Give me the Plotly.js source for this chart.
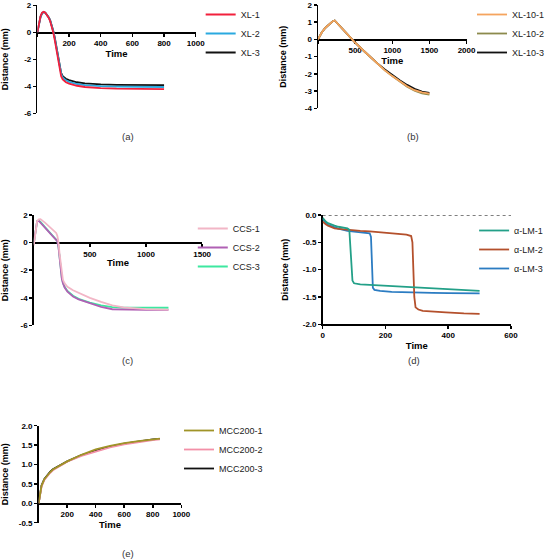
<!DOCTYPE html>
<html>
<head>
<meta charset="utf-8">
<script src="https://cdn.plot.ly/plotly-3.0.1.min.js"></script>
<style>html,body{margin:0;padding:0;background:#fff;}#chart{width:550px;height:559px;}</style>
</head>
<body>
<div id="chart"></div>
<script>
// ---------- Panel (a) ----------
const timeA = [0,10,20,30,40,50,60,70,80,90,100,110,120,130,140,150,160,170,180,200,225,250,300,350,400,500,600,700,800];
const xl1 = [0,0.75,1.2,1.45,1.52,1.45,1.3,1.1,0.85,0.45,0,-0.6,-1.3,-2.0,-2.7,-3.25,-3.5,-3.62,-3.7,-3.8,-3.9,-3.96,-4.05,-4.1,-4.13,-4.17,-4.19,-4.2,-4.21];
const xl2 = [0,0.7,1.15,1.42,1.5,1.45,1.32,1.12,0.9,0.52,0.1,-0.45,-1.1,-1.8,-2.5,-3.05,-3.35,-3.48,-3.56,-3.67,-3.77,-3.83,-3.91,-3.96,-3.99,-4.02,-4.04,-4.05,-4.05];
const xl3 = [0,0.7,1.15,1.42,1.5,1.45,1.33,1.14,0.92,0.55,0.12,-0.4,-1.05,-1.75,-2.45,-3.0,-3.25,-3.37,-3.44,-3.54,-3.64,-3.7,-3.78,-3.83,-3.86,-3.89,-3.9,-3.91,-3.91];
const namesA = ['XL-1','XL-2','XL-3'];

// ---------- Panel (b) ----------
const timeB = [0,25,50,100,150,200,225,250,300,350,400,450,500,600,700,800,900,1000,1100,1200,1300,1400,1500];
const xl10_1 = [0,0.22,0.4,0.68,0.9,1.06,1.1,0.98,0.74,0.5,0.27,0.03,-0.18,-0.6,-1.02,-1.43,-1.8,-2.13,-2.45,-2.72,-2.95,-3.08,-3.15];
const xl10_2 = [0,0.22,0.4,0.68,0.9,1.06,1.1,0.98,0.74,0.5,0.27,0.03,-0.18,-0.6,-1.02,-1.43,-1.8,-2.13,-2.46,-2.75,-2.98,-3.13,-3.2];
const xl10_3 = [0,0.22,0.4,0.68,0.9,1.06,1.1,0.98,0.74,0.5,0.27,0.03,-0.18,-0.6,-1.0,-1.39,-1.74,-2.06,-2.37,-2.64,-2.87,-3.03,-3.1];
const namesB = ['XL-10-1','XL-10-2','XL-10-3'];

// ---------- Panel (c) ----------
const timeC = [0,10,20,30,45,60,100,150,200,210,220,230,240,250,260,275,300,350,400,500,600,700,800,900,1000,1100,1200];
const ccs1 = [-0.2,0.5,1.2,1.55,1.68,1.7,1.45,1.1,0.7,0.5,0.05,-0.8,-1.6,-2.3,-2.7,-2.95,-3.2,-3.45,-3.65,-4.0,-4.3,-4.55,-4.7,-4.78,-4.82,-4.84,-4.85];
const ccs2 = [-0.1,0.6,1.3,1.55,1.57,1.45,1.08,0.64,0.2,0.1,-0.3,-1.2,-2.0,-2.6,-2.95,-3.25,-3.55,-3.9,-4.12,-4.4,-4.65,-4.83,-4.86,-4.87,-4.87,-4.87,-4.87];
const ccs3 = [-0.1,0.6,1.3,1.55,1.6,1.5,1.12,0.68,0.24,0.12,-0.25,-1.15,-1.95,-2.55,-2.9,-3.2,-3.5,-3.85,-4.08,-4.35,-4.55,-4.68,-4.71,-4.72,-4.72,-4.72,-4.72];
const namesC = ['CCS-1','CCS-2','CCS-3'];

// ---------- Panel (d) ----------
const timeD1 = [0,5,10,17,25,38,50,65,79,85,88,91,95,100,120,150,183,250,287,350,400,450,500];
const lm1 = [-0.05,-0.09,-0.12,-0.15,-0.17,-0.195,-0.215,-0.23,-0.245,-0.27,-0.6,-1.0,-1.2,-1.25,-1.27,-1.28,-1.29,-1.31,-1.33,-1.35,-1.36,-1.375,-1.39];
const timeD2 = [0,5,10,17,25,38,50,79,120,150,183,220,250,267,282,286,289,292,296,305,319,350,392,450,500];
const lm2 = [-0.12,-0.15,-0.17,-0.195,-0.215,-0.244,-0.255,-0.274,-0.29,-0.3,-0.317,-0.33,-0.345,-0.36,-0.385,-0.5,-1.0,-1.5,-1.69,-1.73,-1.756,-1.77,-1.78,-1.8,-1.81];
const timeD3 = [0,5,10,17,25,38,50,79,120,150,154,157,160,165,183,220,287,350,400,450,500];
const lm3 = [-0.07,-0.11,-0.14,-0.18,-0.2,-0.23,-0.25,-0.29,-0.317,-0.335,-0.4,-0.9,-1.33,-1.37,-1.39,-1.405,-1.42,-1.425,-1.43,-1.432,-1.435];
const namesD = ['\u03b1-LM-1','\u03b1-LM-2','\u03b1-LM-3'];

// ---------- Panel (e) ----------
const timeE = [0,10,20,40,60,80,100,150,200,300,400,500,600,700,800,850];
const mcc1 = [0,0.3,0.45,0.62,0.72,0.8,0.87,0.98,1.08,1.25,1.39,1.48,1.55,1.6,1.645,1.665];
const mcc2 = [0,0.28,0.42,0.6,0.7,0.78,0.85,0.97,1.07,1.22,1.34,1.44,1.52,1.58,1.63,1.65];
const mcc3 = [0,0.3,0.46,0.63,0.73,0.81,0.88,0.99,1.08,1.24,1.36,1.46,1.54,1.6,1.645,1.66];
const namesE = ['MCC200-1','MCC200-2','MCC200-3'];

// ---------- Tick labels ----------
const tickA_x = [0,200,400,600,800,1000], tickA_xt = ['','200','400','600','800','1000'];
const tickA_y = [-6,-4,-2,0,2], tickA_yt = ['-6','-4','-2','0','2'];
const tickB_x = [0,500,1000,1500,2000], tickB_xt = ['','500','1000','1500','2000'];
const tickB_y = [-4,-3,-2,-1,0,1,2], tickB_yt = ['-4','-3','-2','-1','0','1','2'];
const tickC_x = [0,500,1000,1500], tickC_xt = ['','500','1000','1500'];
const tickC_y = [-6,-4,-2,0,2], tickC_yt = ['-6','-4','-2','0','2'];
const tickD_x = [0,200,400,600], tickD_xt = ['0','200','400','600'];
const tickD_y = [-2,-1.5,-1,-0.5,0], tickD_yt = ['-2.0','-1.5','-1.0','-0.5','0.0'];
const tickE_x = [0,200,400,600,800,1000], tickE_xt = ['','200','400','600','800','1000'];
const tickE_y = [-0.5,0,0.5,1,1.5,2], tickE_yt = ['-0.5','0.0','0.5','1.0','1.5','2.0'];
const panelLabels = ['(a)','(b)','(c)','(d)','(e)'];

const colorsA = ['#f2203c','#2aa9e0','#111111'];
const colorsB = ['#f5a45e','#8c8a4c','#111111'];
const colorsC = ['#f2b6c6','#b060b4','#3de8a0'];
const colorsD = ['#23a088','#b4502c','#2b7cc2'];
const colorsE = ['#a09428','#f390a8','#111111'];

const FONT = 'Liberation Sans, Arial, sans-serif';
const W = 550, H = 559;
const px = v => v / W;
const py = v => 1 - v / H;

const traces = [];
function addPanel(xs, ys, names, colors, xa, ya, leg) {
  // draw series 3,2,1 so series 1 is on top; legend reversed to list 1,2,3
  for (let i = 2; i >= 0; i--) {
    traces.push({
      type: 'scatter', mode: 'lines',
      x: xs[i], y: ys[i], name: names[i],
      xaxis: xa, yaxis: ya, legend: leg,
      line: {color: colors[i], width: 1.8},
      hoverinfo: 'skip'
    });
  }
}
addPanel([timeA,timeA,timeA],[xl1,xl2,xl3],namesA,colorsA,'x','y','legend');
addPanel([timeB,timeB,timeB],[xl10_1,xl10_2,xl10_3],namesB,colorsB,'x2','y2','legend2');
addPanel([timeC,timeC,timeC],[ccs1,ccs2,ccs3],namesC,colorsC,'x3','y3','legend3');
addPanel([timeD1,timeD2,timeD3],[lm1,lm2,lm3],namesD,colorsD,'x4','y4','legend4');
addPanel([timeE,timeE,timeE],[mcc1,mcc2,mcc3],namesE,colorsE,'x5','y5','legend5');

const tickfont = {family: FONT, size: 8, weight: 'bold', color: '#000'};
function axis(extra) {
  return Object.assign({
    showline: true, linecolor: '#000', linewidth: 1.5,
    ticks: 'outside', ticklen: 3, tickwidth: 1.5, tickcolor: '#000',
    showgrid: false, zeroline: false, tickfont: tickfont,
    tickmode: 'array', fixedrange: true, layer: 'below traces'
  }, extra);
}
function xtitle(st) { return {text: 'Time', font: {family: FONT, size: 9.5, weight: 'bold', color: '#000'}, standoff: st}; }
function ytitle(st) { return {text: 'Distance (mm)', font: {family: FONT, size: 9, weight: 'bold', color: '#000'}, standoff: st}; }
function legend(xl, ytop) {
  return {x: px(xl), y: py(ytop), xanchor: 'left', yanchor: 'top',
    traceorder: 'reversed', bgcolor: 'rgba(0,0,0,0)', borderwidth: 0,
    font: {family: FONT, size: 9, color: '#222'}};
}

const layout = {
  width: W, height: H,
  margin: {l: 0, r: 0, t: 0, b: 0},
  paper_bgcolor: '#fff', plot_bgcolor: 'rgba(0,0,0,0)',
  showlegend: true,
  // (a)
  xaxis: axis({domain: [px(38), px(199)], range: [0,1000], anchor: 'free', position: py(32.3),
    tickvals: tickA_x, ticktext: tickA_xt, title: xtitle(2)}),
  yaxis: axis({domain: [py(113.3), py(5.3)], range: [-6,2], anchor: 'x',
    tickvals: tickA_y, ticktext: tickA_yt, title: ytitle(14)}),
  // (b)
  xaxis2: axis({domain: [px(323.3), px(474.3)], range: [0,2000], anchor: 'free', position: py(39.2),
    tickvals: tickB_x, ticktext: tickB_xt, title: xtitle(2)}),
  yaxis2: axis({domain: [py(108.3), py(5)], range: [-4,2], anchor: 'x2',
    tickvals: tickB_y, ticktext: tickB_yt, title: ytitle(16)}),
  // (c)
  xaxis3: axis({domain: [px(34.3), px(205.5)], range: [0,1500], anchor: 'free', position: py(242.4),
    tickvals: tickC_x, ticktext: tickC_xt, title: xtitle(2)}),
  yaxis3: axis({domain: [py(325.4), py(215)], range: [-6,2], anchor: 'x3',
    tickvals: tickC_y, ticktext: tickC_yt, title: ytitle(14)}),
  // (d)
  xaxis4: axis({domain: [px(328), px(519.5)], range: [0,600], anchor: 'y4',
    tickvals: tickD_x, ticktext: tickD_xt, title: xtitle(3)}),
  yaxis4: axis({domain: [py(324.3), py(215)], range: [-2,0], anchor: 'x4',
    tickvals: tickD_y, ticktext: tickD_yt, title: ytitle(12)}),
  // (e)
  xaxis5: axis({domain: [px(39.3), px(184.3)], range: [0,1000], anchor: 'free', position: py(503),
    tickvals: tickE_x, ticktext: tickE_xt, title: xtitle(2)}),
  yaxis5: axis({domain: [py(522.7), py(425.7)], range: [-0.5,2], anchor: 'x5',
    tickvals: tickE_y, ticktext: tickE_yt, title: ytitle(12)}),
  legend: legend(204, 0),
  legend2: legend(480, 0),
  legend3: legend(196, 214),
  legend4: legend(482, 216),
  legend5: legend(182, 416),
  shapes: [{type: 'line', xref: 'x4 domain', yref: 'y4', x0: 0, x1: 1, y0: 0, y1: 0,
    line: {color: '#000', width: 1, dash: 'dot'}, layer: 'below'}],
  annotations: [
    [130, 137], [420, 137], [130, 360], [420.5, 360], [130, 553]
  ].map((p, i) => ({
    text: panelLabels[i], xref: 'paper', yref: 'paper', x: px(p[0]), y: py(p[1]),
    xanchor: 'center', yanchor: 'middle', showarrow: false,
    font: {family: FONT, size: 9.5, color: '#333'}
  }))
};

Plotly.newPlot('chart', traces, layout, {displayModeBar: false, staticPlot: true});
</script>
</body>
</html>
